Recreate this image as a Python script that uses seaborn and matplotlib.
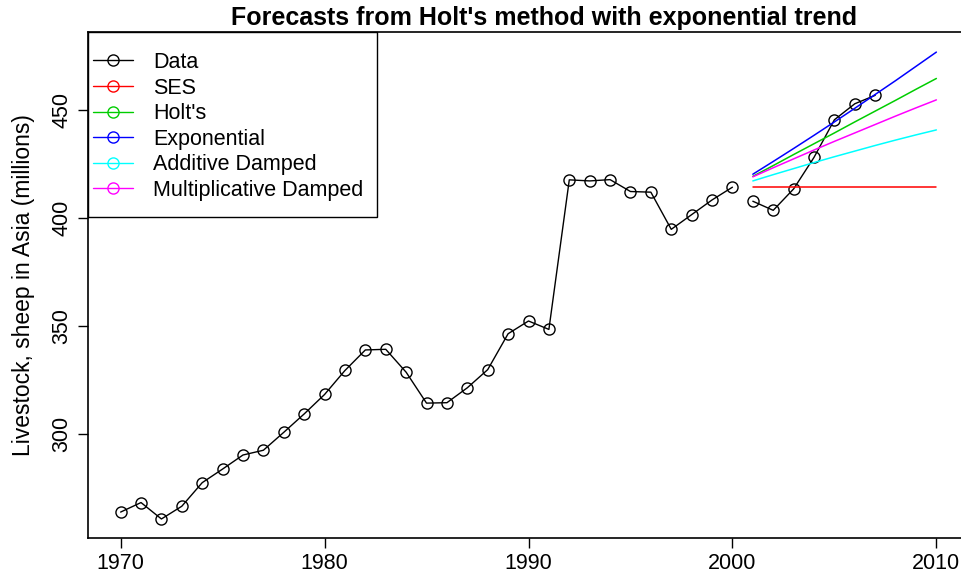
import numpy as np
import matplotlib
matplotlib.use("Agg")
import matplotlib.pyplot as plt
from matplotlib.lines import Line2D
from matplotlib.patches import Rectangle
import seaborn as sns

sns.set_style("white")
plt.rcParams["font.family"] = ["Liberation Sans", "DejaVu Sans"]
plt.rcParams["text.color"] = "black"
plt.rcParams["axes.labelcolor"] = "black"

# livestock, sheep in Asia (millions)
train_years = list(range(1970, 2001))
train_values = [263.9, 268.3, 260.7, 266.6, 277.5, 283.8, 290.3, 292.5, 300.8,
                309.3, 318.3, 329.4, 338.9, 339.2, 328.6, 314.3, 314.5, 321.4,
                329.8, 346.4, 352.3, 348.4, 417.6, 417.1, 417.7, 412.2, 411.9,
                394.7, 401.5, 408.3, 414.2]
test_years = list(range(2001, 2008))
test_values = [407.7, 403.5, 413.4, 428.0, 445.4, 452.8, 456.7]

# forecasts 2001-2010
fc_years = list(range(2001, 2011))
ses_fc = [414.2] * 10
holt_fc = [419.2, 424.2, 429.3, 434.3, 439.3, 444.4, 449.4, 454.4, 459.5, 464.5]
exp_fc = [420.2, 426.1, 432.1, 438.2, 444.4, 450.7, 457.1, 463.5, 470.1, 476.7]
add_damped_fc = [417.1, 420.0, 422.8, 425.6, 428.3, 430.9, 433.5, 436.0, 438.4, 440.7]
mult_damped_fc = [419.0, 423.2, 427.3, 431.4, 435.4, 439.3, 443.2, 447.1, 450.9, 454.6]

labels = ["Data", "SES", "Holt's", "Exponential", "Additive Damped",
          "Multiplicative Damped"]
colors = ["black", "red", "#00CD00", "blue", "cyan", "magenta"]

fig = plt.figure(figsize=(9.62, 5.81), dpi=100)
# axes box runs a little past the right edge, as in the original
ax = fig.add_axes([88 / 962, 43 / 581, 881 / 962, 506 / 581])

mk = dict(marker="o", markersize=8, markerfacecolor="none",
          markeredgecolor="black", markeredgewidth=1.0)
sns.lineplot(x=train_years, y=train_values, color="black", lw=1.0, ax=ax, **mk)
sns.lineplot(x=test_years, y=test_values, color="black", lw=1.0, ax=ax, **mk)

for fc, c in zip([ses_fc, holt_fc, exp_fc, add_damped_fc, mult_damped_fc], colors[1:]):
    sns.lineplot(x=fc_years, y=fc, color=c, lw=1.1, ax=ax)

ax.set_xlim(1968.4, 2011.6)
ax.set_ylim(251.9, 486.0)
ax.set_xticks([1970, 1980, 1990, 2000, 2010])
ax.set_yticks([300, 350, 400, 450])
ax.tick_params(axis="both", direction="out", length=7, width=1, labelsize=15.5,
               bottom=True, left=True, colors="black", pad=4)
for lab in ax.get_yticklabels():
    lab.set_rotation(90)
    lab.set_va("center")
for s in ax.spines.values():
    s.set_color("black")
    s.set_linewidth(1.2)
ax.spines["right"].set_visible(False)

ax.set_ylabel("Livestock, sheep in Asia (millions)", fontsize=16.5, labelpad=12)
ax.set_title("Forecasts from Holt's method with exponential trend",
             fontsize=18, fontweight="bold", pad=5, x=456 / 881, color="black")

handles = [Line2D([0], [0], color=c, lw=1.0, marker="o", markersize=8,
                  markerfacecolor="none", markeredgecolor=c) for c in colors]
leg = ax.legend(handles, labels, loc="upper left",
                bbox_to_anchor=(5 / 881, 1 - 20 / 506), borderaxespad=0,
                borderpad=0, frameon=False, fontsize=15.5,
                handlelength=1.86, labelspacing=0.21, handletextpad=0.93)
ax.add_patch(Rectangle((0, 1 - 185 / 506), 289 / 881, 185 / 506,
                       transform=ax.transAxes, fill=False, edgecolor="black",
                       lw=1.0, zorder=5, clip_on=False))

fig.savefig("out.png", dpi=100)
